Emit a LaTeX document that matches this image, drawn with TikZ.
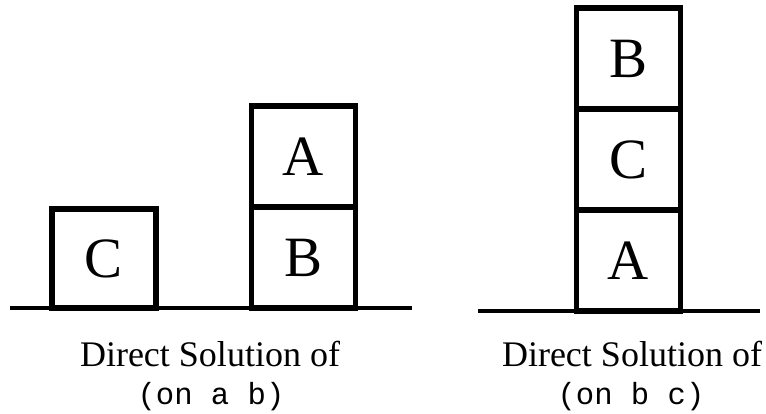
\documentclass[tikz,border=0pt]{standalone}
\usepackage{fontspec}
\setmainfont{Liberation Serif}
\setmonofont{Liberation Mono}
\usepackage{tikz}
\usetikzlibrary{positioning}

\tikzset{
  blockbox/.style={draw, line width=5.5pt, outer sep=0pt, minimum width=104pt, minimum height=101pt, inner sep=0pt, font=\fontsize{57}{57}\selectfont},
  ground/.style={line width=4.5pt},
  caption/.style={anchor=base, inner sep=0pt, font=\fontsize{36}{36}\selectfont},
  goal/.style={anchor=base, inner sep=0pt, font=\ttfamily\fontsize{30.6}{30.6}\selectfont}
}

\begin{document}
\begin{tikzpicture}[x=1pt, y=1pt]
  \useasboundingbox (0,0) rectangle (766,414);

  % left table: C alone, A on B
  \coordinate (tableL-w) at (10,106);
  \coordinate (tableL-e) at (412,106);
  \draw[ground] (tableL-w) -- (tableL-e);
  \node[blockbox, anchor=south, minimum height=99pt] (boxC) at (104,106) {C};
  \node[blockbox, anchor=south] (boxB) at (303.5,106) {B};
  \node[blockbox, above=0pt of boxB] (boxA) {A};

  % right table: B on C on A
  \coordinate (tableR-w) at (478,103);
  \coordinate (tableR-e) at (760,103);
  \draw[ground] (tableR-w) -- (tableR-e);
  \node[blockbox, anchor=south] (stackA) at (628.5,103) {A};
  \node[blockbox, above=0pt of stackA] (stackC) {C};
  \node[blockbox, above=0pt of stackC] (stackB) {B};

  % captions
  \node[caption] (capL) at (210,47) {Direct Solution of};
  \node[goal] (goalL) at (211,9) {(on a b)};
  \node[caption] (capR) at (632,47) {Direct Solution of};
  \node[goal] (goalR) at (631,9) {(on b c)};
\end{tikzpicture}
\end{document}
